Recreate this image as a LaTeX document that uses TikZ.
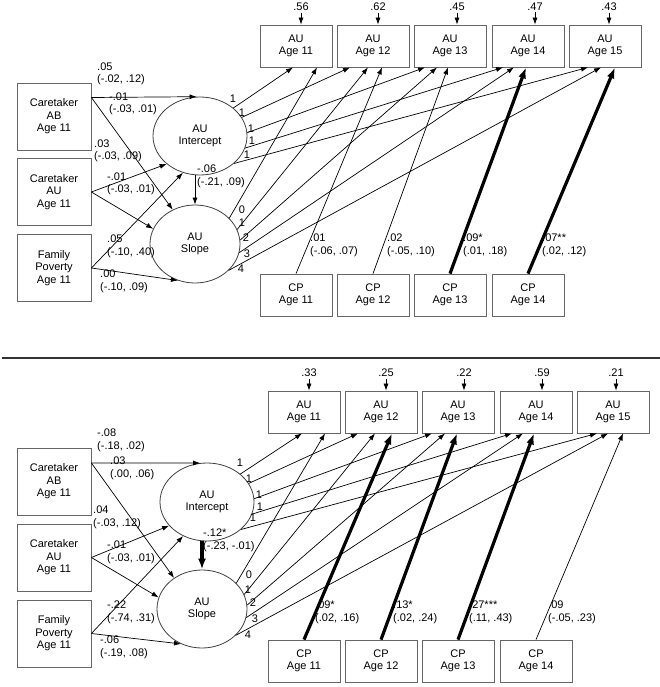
\documentclass[tikz,border=0pt]{standalone}
\usepackage{fontspec}
\setmainfont{Liberation Sans}
\usetikzlibrary{arrows.meta,calc,shapes.geometric}
\begin{document}
\begin{tikzpicture}[x=1pt,y=-1pt,
  every node/.style={font=\fontsize{11}{12.5}\selectfont},
  box/.style={draw=black!60, line width=0.8pt, align=center, inner sep=0pt},
  aubox/.style={box, minimum width=72pt, minimum height=42pt},
  lbox/.style={box, minimum width=74pt, minimum height=67pt},
  lat/.style={ellipse, draw=black!75, line width=0.8pt, align=center, inner sep=0pt, minimum width=94pt, minimum height=78pt},
  arr/.style={-{Latex[length=7pt,width=5pt]}, line width=0.7pt, black},
  tarr/.style={-{Latex[length=11pt,width=8pt]}, line width=3.2pt, black},
  lab/.style={align=left, anchor=base west, inner sep=0pt},
  num/.style={inner sep=0pt},
  res/.style={inner sep=1.5pt},
]
\useasboundingbox (0,0) rectangle (660,687);

% ================= TOP PANEL =================
\foreach \i/\x in {11/296,12/373,13/450,14/528,15/605}
  {\node[aubox] (au\i a) at (\x,46) {AU\\Age \i};}
\foreach \i/\x in {11/296,12/373,13/450,14/528}
  {\node[aubox] (cp\i a) at (\x,295) {CP\\Age \i};}
\node[lbox] (aba) at (54,116.5) {Caretaker\\AB\\Age 11};
\node[lbox] (caua) at (54,192) {Caretaker\\AU\\Age 11};
\node[lbox] (fpa) at (54,268) {Family\\Poverty\\Age 11};
\node[lat] (inta) at (200,136) {AU\\Intercept};
\node[lat, minimum width=90pt] (slpa) at (195,244) {AU\\Slope};

% residuals
\foreach \i/\x/\v in {11/301/.56,12/378/.62,13/457/.45,14/535/.47,15/609/.43}
  {\node[res] (r\i a) at (\x,7) {\v};
   \draw[arr] (r\i a.south) -- (r\i a.south |- au\i a.north);}

% predictors -> latent
\draw[arr] ([yshift=19pt]aba.east) -- (inta.95);
\draw[arr] ([yshift=19pt]aba.east) -- (slpa.123);
\draw[arr] (caua.east) -- (inta.220);
\draw[arr] (caua.east) -- (slpa.160);
\draw[arr] (fpa.east) -- (inta.245);
\draw[arr] (fpa.east) -- (slpa.245);
\draw[arr] (slpa.north |- inta.south) -- (slpa.north);

\node[lab] (la1) at (97,83) {.05\\(-.02, .12)};
\node[lab] (la2) at (109,113) {-.01\\(-.03, .01)};
\node[lab] (la3) at (94,160) {.03\\(-.03, .09)};
\node[lab] (la4) at (107,193) {-.01\\(-.03, .01)};
\node[lab] (la5) at (107,255) {.05\\(-.10, .40)};
\node[lab] (la6) at (100,290) {.00\\(-.10, .09)};
\node[lab] (la7) at (197,185) {-.06\\(-.21, .09)};

% intercept loadings
\draw[arr] (inta.40) -- ([xshift=-3pt]au11a.south);
\draw[arr] (inta.24) -- ([xshift=-23pt]au12a.south);
\draw[arr] (inta.4) -- ([xshift=-25pt]au13a.south);
\draw[arr] (inta.-15) -- ([xshift=-25pt]au14a.south);
\draw[arr] (inta.-39) -- ([xshift=-17pt]au15a.south);
\node[num] (ia1) at (233,99) {1};
\node[num] (ia2) at (242,113) {1};
\node[num] (ia3) at (251,129) {1};
\node[num] (ia4) at (252,141) {1};
\node[num] (ia5) at (247,155) {1};

% slope loadings
\draw[arr] (slpa.37) -- ([xshift=21pt]au11a.south);
\draw[arr] (slpa.19) -- ([xshift=-5pt]au12a.south);
\draw[arr] (slpa.5) -- ([xshift=-13pt]au13a.south);
\draw[arr] (slpa.-11) -- ([xshift=-14pt]au14a.south);
\draw[arr] (slpa.-38) -- ([xshift=-4pt]au15a.south);
\node[num] (sa0) at (242,210) {0};
\node[num] (sa1) at (242,223) {1};
\node[num] (sa2) at (246,238) {2};
\node[num] (sa3) at (247,254) {3};
\node[num] (sa4) at (241,269) {4};

% CP -> AU
\draw[arr] (cp11a.north) -- ([xshift=9pt]au12a.south);
\draw[arr] (cp12a.north) -- ([xshift=-2pt]au13a.south);
\draw[tarr] (cp13a.north) -- ([xshift=-2pt]au14a.south);
\draw[tarr] (cp14a.north) -- ([xshift=10pt]au15a.south);
\node[lab] (ca1) at (310,254) {.01\\(-.06, .07)};
\node[lab] (ca2) at (387,254) {.02\\(-.05, .10)};
\node[lab] (ca3) at (463,254) {.09*\\(.01, .18)};
\node[lab] (ca4) at (542,254) {.07**\\(.02, .12)};

% separator
\coordinate (sepL) at (2,358);
\coordinate (sepR) at (660,358);
\draw[line width=1.3pt, black!80] (sepL) -- (sepR);

% ================= BOTTOM PANEL =================
\foreach \i/\x in {11/304,12/381,13/458,14/536,15/613}
  {\node[aubox] (au\i b) at (\x,412) {AU\\Age \i};}
\foreach \i/\x in {11/304,12/381,13/458,14/536}
  {\node[aubox] (cp\i b) at (\x,661) {CP\\Age \i};}
\node[lbox] (abb) at (54,481.5) {Caretaker\\AB\\Age 11};
\node[lbox] (caub) at (54,557.5) {Caretaker\\AU\\Age 11};
\node[lbox] (fpb) at (54,633.5) {Family\\Poverty\\Age 11};
\node[lat] (intb) at (207,502) {AU\\Intercept};
\node[lat, minimum width=90pt] (slpb) at (202,609) {AU\\Slope};

\foreach \i/\x/\v in {11/309/.33,12/386/.25,13/464/.22,14/542/.59,15/616/.21}
  {\node[res] (r\i b) at (\x,373) {\v};
   \draw[arr] (r\i b.south) -- (r\i b.south |- au\i b.north);}

\draw[arr] ([yshift=18.5pt]abb.east) -- (intb.100);
\draw[arr] ([yshift=18.5pt]abb.east) -- (slpb.132);
\draw[arr] (caub.east) -- (intb.212);
\draw[arr] (caub.east) -- (slpb.165);
\draw[arr] (fpb.east) -- (intb.235);
\draw[arr] (fpb.east) -- (slpb.239);
\draw[tarr] (slpb.north |- intb.south) -- (slpb.north);

\node[lab] (lb1) at (97,449) {-.08\\(-.18, .02)};
\node[lab] (lb2) at (110,477) {.03\\(.00, .06)};
\node[lab] (lb3) at (93,526) {.04\\(-.03, .12)};
\node[lab] (lb4) at (107,561) {-.01\\(-.03, .01)};
\node[lab] (lb5) at (107,621) {-.22\\(-.74, .31)};
\node[lab] (lb6) at (100,656) {-.06\\(-.19, .08)};
\node[lab] (lb7) at (203,549) {-.12*\\(-.23, -.01)};

\draw[arr] (intb.40) -- ([xshift=-2pt]au11b.south);
\draw[arr] (intb.24) -- ([xshift=-23pt]au12b.south);
\draw[arr] (intb.4) -- ([xshift=-26pt]au13b.south);
\draw[arr] (intb.-15) -- ([xshift=-24pt]au14b.south);
\draw[arr] (intb.-39) -- ([xshift=-16pt]au15b.south);
\node[num] (ib1) at (240,463) {1};
\node[num] (ib2) at (249,479) {1};
\node[num] (ib3) at (259,495) {1};
\node[num] (ib4) at (260,507) {1};
\node[num] (ib5) at (253,518) {1};

\draw[arr] (slpb.37) -- ([xshift=21pt]au11b.south);
\draw[arr] (slpb.19) -- ([xshift=-6pt]au12b.south);
\draw[arr] (slpb.5) -- ([xshift=-13pt]au13b.south);
\draw[arr] (slpb.-11) -- ([xshift=-13pt]au14b.south);
\draw[arr] (slpb.-38) -- ([xshift=-5pt]au15b.south);
\node[num] (sb0) at (249,575) {0};
\node[num] (sb1) at (248,590) {1};
\node[num] (sb2) at (253,603) {2};
\node[num] (sb3) at (255,619) {3};
\node[num] (sb4) at (248,635) {4};

\draw[tarr] (cp11b.north) -- ([xshift=11pt]au12b.south);
\draw[tarr] (cp12b.north) -- ([xshift=-1pt]au13b.south);
\draw[tarr] (cp13b.north) -- ([xshift=-2pt]au14b.south);
\draw[arr] (cp14b.north) -- ([xshift=10pt]au15b.south);
\node[lab] (cb1) at (315,621) {.09*\\(.02, .16)};
\node[lab] (cb2) at (393,621) {.13*\\(.02, .24)};
\node[lab] (cb3) at (469,621) {.27***\\(.11, .43)};
\node[lab] (cb4) at (548,621) {.09\\(-.05, .23)};
\end{tikzpicture}
\end{document}
